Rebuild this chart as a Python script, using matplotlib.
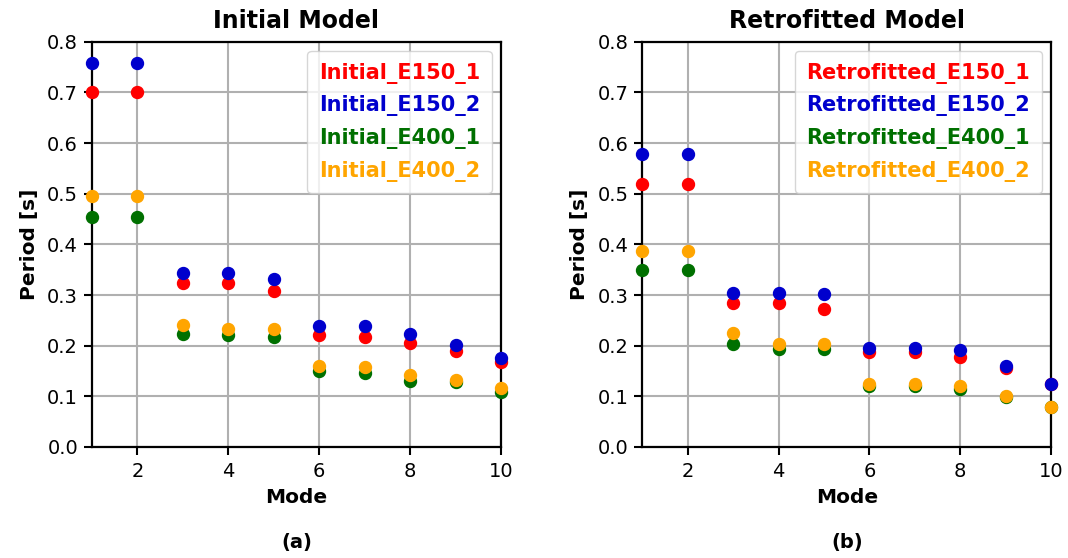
import numpy as np
import matplotlib
matplotlib.use("Agg")
import matplotlib.pyplot as plt

modos = np.arange(1, 11)

# Initial model
ini_e150_1 = [0.700, 0.700, 0.323, 0.323, 0.308, 0.221, 0.218, 0.206, 0.190, 0.167]
ini_e150_2 = [0.759, 0.759, 0.343, 0.344, 0.332, 0.239, 0.239, 0.223, 0.201, 0.176]
ini_e400_1 = [0.455, 0.455, 0.223, 0.221, 0.218, 0.150, 0.147, 0.131, 0.128, 0.109]
ini_e400_2 = [0.495, 0.495, 0.241, 0.232, 0.232, 0.160, 0.157, 0.142, 0.132, 0.117]

# Retrofitted model
ret_e150_1 = [0.519, 0.519, 0.285, 0.284, 0.272, 0.188, 0.188, 0.178, 0.155, 0.124]
ret_e150_2 = [0.579, 0.579, 0.305, 0.305, 0.303, 0.195, 0.195, 0.192, 0.160, 0.125]
ret_e400_1 = [0.350, 0.350, 0.203, 0.194, 0.194, 0.121, 0.121, 0.114, 0.099, 0.078]
ret_e400_2 = [0.387, 0.387, 0.226, 0.203, 0.203, 0.125, 0.125, 0.120, 0.100, 0.079]

colores = ["#ff0000", "#0000cd", "#007000", "#ffa500"]
nombres_ini = ["Initial_E150_1", "Initial_E150_2", "Initial_E400_1", "Initial_E400_2"]
nombres_ret = ["Retrofitted_E150_1", "Retrofitted_E150_2", "Retrofitted_E400_1", "Retrofitted_E400_2"]

fig = plt.figure(figsize=(10.68, 5.58), dpi=100)
ax1 = fig.add_axes([0.0861, 0.199, 0.383, 0.726])
ax2 = fig.add_axes([0.6014, 0.199, 0.3828, 0.726])


def dibujar(ax, series, nombres, titulo, letra):
    for datos, color, nombre in zip(series, colores, nombres):
        ax.plot(modos, datos, "o", color=color, markersize=8.6, label=nombre,
                clip_on=False, zorder=3)
    ax.set_xlim(1, 10)
    ax.set_ylim(0, 0.8)
    ax.set_xticks([2, 4, 6, 8, 10])
    ax.set_yticks(np.arange(0, 0.81, 0.1))
    ax.yaxis.set_major_formatter(matplotlib.ticker.FormatStrFormatter("%.1f"))
    ax.tick_params(labelsize=14, width=1.5, length=6, pad=4, colors="black")
    ax.tick_params(axis="x", pad=5)
    ax.grid(True, color="#b0b0b0", linewidth=1.5)
    ax.set_axisbelow(True)
    for s in ax.spines.values():
        s.set_linewidth(1.6)
    ax.set_title(titulo, fontsize=17, fontweight="bold", pad=10)
    ax.set_xlabel("Mode", fontsize=14.5, fontweight="bold", labelpad=5)
    ax.set_ylabel("Period [s]", fontsize=14.5, fontweight="bold", labelpad=6)
    leg = ax.legend(loc="upper right", handlelength=0, handletextpad=0,
                    markerscale=0, prop={"weight": "bold", "size": 15},
                    borderaxespad=0.45, labelspacing=0.56, borderpad=0.55)
    for h in leg.legend_handles:
        h.set_visible(False)
    for t, c in zip(leg.get_texts(), colores):
        t.set_color(c)
    pos = ax.get_position()
    fig.text((pos.x0 + pos.x1) / 2, 0.027, letra, ha="center", va="center",
             fontsize=14, fontweight="bold")


dibujar(ax1, [ini_e150_1, ini_e150_2, ini_e400_1, ini_e400_2], nombres_ini,
        "Initial Model", "(a)")
dibujar(ax2, [ret_e150_1, ret_e150_2, ret_e400_1, ret_e400_2], nombres_ret,
        "Retrofitted Model", "(b)")

fig.savefig("out.png", dpi=100)
